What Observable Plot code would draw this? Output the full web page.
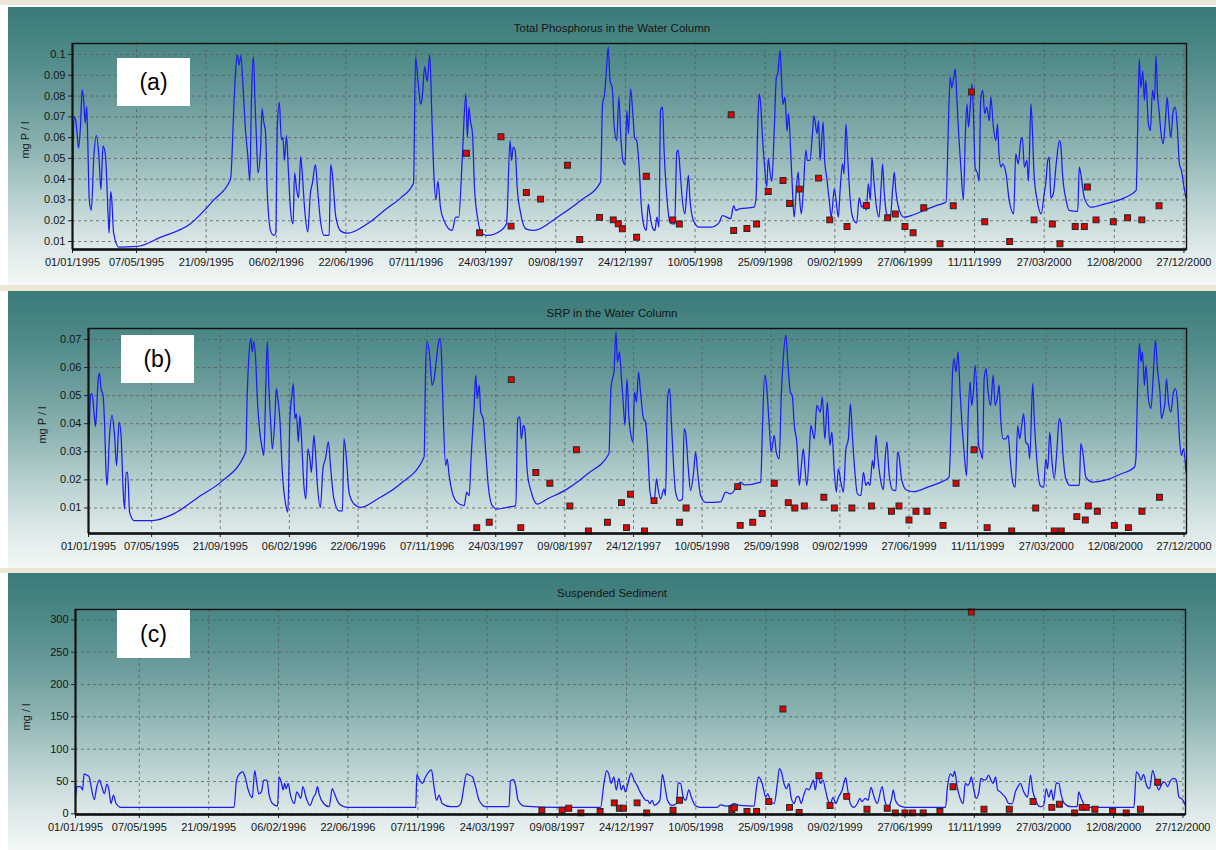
<!DOCTYPE html>
<html><head><meta charset="utf-8">
<script src="https://cdn.jsdelivr.net/npm/d3@7"></script>
<script src="https://cdn.jsdelivr.net/npm/@observablehq/plot@0.6"></script>
<style>
body{margin:0;background:#fff;width:1216px;height:850px;overflow:hidden;font-family:Arial,"Liberation Sans",sans-serif;}
#root{position:relative;width:1216px;height:850px;}
.sep{position:absolute;left:0;width:1216px;background:#ebe7d6;}
.panel{position:absolute;left:8px;width:1208px;overflow:hidden;
 background:linear-gradient(to bottom,#3a7a78 0%,#4b8886 15%,#699b9a 33%,#8ab2b1 50%,#b8d0d0 69%,#dde8e8 86%,#f3f7f7 100%);}
.panel svg{position:absolute;left:0;top:0;}
.title{position:absolute;left:0;width:100%;text-align:center;font-size:11.5px;line-height:14px;color:#151515;}
.ylab{position:absolute;font-size:11px;color:#151515;white-space:nowrap;transform:translate(-50%,-50%) rotate(-90deg);}
.tag{position:absolute;background:#fff;width:73px;height:48px;font-size:23px;line-height:48px;text-align:center;color:#000;}
</style></head>
<body><div id="root"></div>
<script>
// ---------------- data ----------------
const xTickLabels = ["01/01/1995","07/05/1995","21/09/1995","06/02/1996","22/06/1996","07/11/1996","24/03/1997","09/08/1997","24/12/1997","10/05/1998","25/09/1998","09/02/1999","27/06/1999","11/11/1999","27/03/2000","12/08/2000","27/12/2000"];
const tpYTicks = [0.01,0.02,0.03,0.04,0.05,0.06,0.07,0.08,0.09,0.1];
const srpYTicks = [0.01,0.02,0.03,0.04,0.05,0.06,0.07];
const ssYTicks = [0,50,100,150,200,250,300];
const panelTitles = ["Total Phosphorus in the Water Column","SRP in the Water Column","Suspended Sediment"];
const panelTags = ["(a)","(b)","(c)"];
const yLabels = ["mg P / l","mg P / l","mg / l"];

// simulated series: [day since 01/01/1995, value]
const tpSim = [[0,0.030],[3,0.070],[6,0.069],[9,0.062],[12,0.055],[16,0.067],[19,0.083],[22,0.078],[25,0.067],[28,0.075],[30,0.059],[33,0.030],[37,0.025],[42,0.051],[47,0.061],[52,0.051],[56,0.035],[60,0.056],[65,0.051],[70,0.023],[72,0.014],[75,0.034],[77,0.031],[81,0.014],[91,0.0073],[127,0.0076],[173,0.012],[232,0.0185],[278,0.030],[311,0.040],[318,0.078],[321,0.092],[324,0.100],[328,0.095],[331,0.0995],[336,0.083],[340,0.065],[345,0.051],[349,0.039],[352,0.078],[356,0.099],[359,0.078],[362,0.059],[365,0.043],[370,0.054],[373,0.074],[376,0.068],[380,0.062],[383,0.035],[390,0.015],[396,0.013],[400,0.014],[403,0.065],[407,0.077],[411,0.059],[414,0.060],[417,0.049],[421,0.061],[425,0.043],[429,0.025],[434,0.0185],[437,0.043],[441,0.035],[445,0.031],[449,0.051],[452,0.043],[457,0.025],[463,0.0146],[468,0.033],[472,0.038],[478,0.047],[482,0.036],[487,0.022],[495,0.013],[505,0.013],[508,0.047],[511,0.043],[518,0.022],[528,0.015],[541,0.014],[580,0.0185],[619,0.026],[646,0.031],
[671,0.038],[675,0.0987],[680,0.087],[685,0.076],[688,0.079],[693,0.094],[698,0.087],[703,0.100],[707,0.071],[711,0.0426],[715,0.030],[719,0.039],[724,0.0265],[731,0.020],[747,0.0153],[754,0.0217],[760,0.0217],[767,0.0506],[774,0.081],[777,0.060],[780,0.0747],[783,0.068],[787,0.062],[791,0.036],[798,0.020],[806,0.0137],[816,0.0129],[843,0.0153],[854,0.0185],[861,0.0586],[864,0.049],[867,0.0554],[871,0.054],[875,0.036],[882,0.0233],[892,0.0161],[908,0.0153],[954,0.0217],[1000,0.0297],[1039,0.0386],[1043,0.0763],[1047,0.081],[1051,0.094],[1054,0.1035],[1058,0.087],[1062,0.084],[1066,0.065],[1071,0.0586],[1075,0.0795],[1079,0.060],[1083,0.049],[1087,0.047],[1091,0.073],[1094,0.062],[1098,0.0835],[1103,0.070],[1106,0.060],[1110,0.0586],[1115,0.0458],[1119,0.028],[1125,0.0169],[1129,0.0153],[1133,0.028],[1136,0.0233],[1141,0.0169],[1146,0.0153],[1150,0.0217],[1154,0.0169],[1157,0.073],[1161,0.0747],[1164,0.054],[1169,0.033],[1175,0.020],[1180,0.0185],[1185,0.0185],[1189,0.053],[1192,0.054],[1196,0.0426],[1200,0.030],[1205,0.0233],[1209,0.0346],[1212,0.0418],[1215,0.030],[1222,0.020],[1233,0.0169],[1256,0.0169],[1272,0.019],[1279,0.0225],[1295,0.021],[1301,0.0273],[1305,0.025],[1312,0.0257],[1341,0.0265],[1345,0.031],[1348,0.062],[1351,0.081],[1354,0.0763],[1358,0.0586],[1362,0.0458],[1366,0.036],[1369,0.050],[1373,0.0426],[1376,0.039],[1381,0.065],[1385,0.089],[1388,0.091],[1392,0.102],[1395,0.089],[1398,0.076],[1402,0.0795],[1406,0.063],[1409,0.0715],[1413,0.054],[1417,0.033],[1420,0.0217],[1425,0.0378],[1428,0.0434],[1431,0.030],[1434,0.0233],[1438,0.0346],[1443,0.054],[1446,0.049],[1451,0.049],[1456,0.062],[1459,0.0706],[1465,0.062],[1468,0.068],
[1471,0.049],[1477,0.0675],[1480,0.049],[1484,0.041],[1489,0.030],[1493,0.0217],[1499,0.0354],[1502,0.031],[1507,0.0217],[1510,0.033],[1515,0.0474],[1518,0.0426],[1522,0.0666],[1525,0.0522],[1530,0.031],[1535,0.0217],[1543,0.019],[1548,0.031],[1553,0.0265],[1558,0.028],[1562,0.025],[1566,0.0378],[1570,0.030],[1573,0.0506],[1577,0.039],[1582,0.0265],[1587,0.0217],[1591,0.036],[1594,0.0474],[1597,0.0346],[1602,0.0233],[1609,0.021],[1614,0.036],[1617,0.0434],[1620,0.0346],[1627,0.025],[1636,0.0217],[1650,0.0225],[1676,0.025],[1699,0.0273],[1719,0.029],[1723,0.062],[1727,0.089],[1730,0.084],[1734,0.089],[1737,0.093],[1740,0.0795],[1743,0.065],[1748,0.0458],[1753,0.030],[1757,0.063],[1760,0.0763],[1763,0.065],[1766,0.073],[1770,0.086],[1773,0.070],[1776,0.0458],[1781,0.0426],[1784,0.039],[1787,0.078],[1791,0.0827],[1795,0.0715],[1799,0.0747],[1804,0.068],[1807,0.0795],[1812,0.065],[1817,0.0586],[1820,0.0666],[1823,0.0522],[1827,0.0458],[1830,0.0474],[1837,0.0426],[1843,0.030],[1852,0.0233],[1856,0.0522],[1861,0.0474],[1866,0.0586],[1869,0.060],[1873,0.0458],[1878,0.049],[1881,0.039],[1886,0.0763],[1889,0.062],[1892,0.0426],[1898,0.030],[1906,0.0233],[1912,0.033],[1915,0.0378],[1919,0.049],[1922,0.0506],[1925,0.031],[1930,0.033],[1935,0.0458],[1942,0.0586],[1945,0.0554],[1948,0.0426],[1955,0.030],[1961,0.025],[1978,0.0245],[1981,0.0458],[1984,0.0426],[1991,0.031],[2004,0.0265],[2030,0.028],[2070,0.031],[2093,0.0346],[2096,0.065],[2099,0.098],[2102,0.084],[2106,0.092],[2109,0.078],[2112,0.0875],[2117,0.0666],[2121,0.0634],[2125,0.0827],[2129,0.078],[2132,0.0995],[2135,0.081],[2138,0.073],[2142,0.062],[2146,0.057],[2150,0.0666],[2154,0.0795],[2157,0.070],[2161,0.060],[2166,0.073],[2170,0.0747],[2174,0.065],[2178,0.0474],[2182,0.0442],[2186,0.0378],[2191,0.031]];

const srpSim = [[0,0.0227],[4,0.050],[7,0.0507],[11,0.044],[14,0.039],[17,0.0477],[19,0.055],[22,0.058],[25,0.0525],[29,0.050],[32,0.0406],[35,0.0227],[37,0.018],[42,0.0358],[47,0.043],[52,0.0358],[56,0.0251],[61,0.0406],[65,0.0358],[69,0.0168],[72,0.0096],[75,0.0227],[78,0.0227],[82,0.0085],[91,0.0055],[127,0.0055],[170,0.0079],[224,0.0144],[264,0.0192],[314,0.0299],[317,0.0513],[320,0.0632],[324,0.0704],[327,0.0656],[330,0.0692],[334,0.062],[337,0.0489],[342,0.037],[347,0.031],[350,0.0287],[354,0.0537],[357,0.0692],[360,0.0537],[364,0.0394],[367,0.031],[372,0.0418],[375,0.0525],[378,0.0489],[382,0.0418],[387,0.0227],[394,0.0108],[398,0.0085],[402,0.0418],[406,0.050],[409,0.0543],[412,0.0418],[415,0.0436],[419,0.0335],[422,0.043],[425,0.0358],[430,0.018],[434,0.0132],[438,0.031],[442,0.0275],[445,0.0227],[450,0.0358],[453,0.0299],[457,0.018],[463,0.0102],[468,0.0239],[473,0.0275],[479,0.0335],[483,0.0251],[490,0.0132],[500,0.009],[507,0.009],[510,0.0346],[515,0.0275],[520,0.0156],[530,0.0114],[543,0.0102],[577,0.0132],[623,0.0186],
[670,0.0281],[673,0.0596],[676,0.0692],[681,0.0644],[686,0.0537],[690,0.056],[694,0.062],[698,0.068],[702,0.0704],[705,0.0632],[708,0.0442],[713,0.0251],[716,0.0275],[720,0.0215],[726,0.0156],[736,0.012],[750,0.0108],[755,0.0156],[760,0.0144],[764,0.0287],[770,0.0465],[773,0.0573],[776,0.0489],[780,0.0537],[783,0.0442],[788,0.0418],[793,0.0299],[798,0.018],[806,0.0108],[816,0.0096],[836,0.0102],[853,0.0108],[857,0.0418],[861,0.0424],[864,0.0346],[868,0.0394],[871,0.0382],[876,0.0227],[884,0.0156],[896,0.0114],[916,0.0132],[956,0.0168],[996,0.0221],[1039,0.0293],[1043,0.0525],[1046,0.056],[1049,0.0584],[1053,0.0727],[1056,0.062],[1060,0.0656],[1064,0.056],[1067,0.0489],[1071,0.0394],[1075,0.056],[1079,0.0418],[1082,0.037],[1087,0.0335],[1090,0.0513],[1094,0.0477],[1098,0.0584],[1102,0.0513],[1108,0.0418],[1112,0.0406],[1116,0.0323],[1121,0.0156],[1127,0.012],[1130,0.0132],[1134,0.0204],[1137,0.0168],[1142,0.0132],[1149,0.0168],[1152,0.0144],[1156,0.0489],[1160,0.0525],[1164,0.0394],[1168,0.0251],[1172,0.0156],[1179,0.0126],[1186,0.0132],[1189,0.0382],[1192,0.037],[1197,0.0251],[1202,0.0162],[1208,0.0227],[1212,0.0299],[1216,0.0227],[1222,0.0144],[1232,0.012],[1262,0.0122],[1272,0.0156],[1282,0.015],[1296,0.018],[1302,0.0192],[1309,0.0182],[1342,0.0192],[1345,0.0358],[1350,0.0573],[1353,0.0549],[1359,0.0394],[1363,0.0299],[1369,0.0358],[1373,0.0299],[1379,0.0275],[1383,0.050],[1387,0.0632],[1392,0.0716],[1397,0.0596],[1401,0.0513],[1405,0.050],[1409,0.0394],[1414,0.0335],[1419,0.018],[1422,0.0227],[1427,0.031],[1431,0.0227],[1434,0.018],[1439,0.0299],[1442,0.0394],[1449,0.0346],[1454,0.0465],
[1461,0.0442],[1465,0.0495],[1470,0.0346],[1475,0.0477],[1480,0.0323],[1484,0.037],[1489,0.0227],[1493,0.0156],[1497,0.0239],[1502,0.0192],[1507,0.0156],[1512,0.031],[1517,0.0346],[1521,0.0471],[1525,0.0358],[1530,0.0227],[1535,0.015],[1542,0.0144],[1547,0.0227],[1552,0.018],[1556,0.0192],[1560,0.018],[1565,0.0269],[1568,0.0239],[1572,0.0358],[1576,0.0275],[1582,0.0192],[1587,0.0165],[1590,0.0263],[1594,0.0335],[1598,0.0227],[1605,0.0165],[1612,0.0162],[1615,0.0299],[1618,0.0287],[1623,0.0204],[1632,0.0165],[1648,0.0158],[1675,0.0174],[1702,0.0192],[1718,0.021],[1722,0.0394],[1725,0.0584],[1728,0.0632],[1732,0.0584],[1736,0.0656],[1740,0.0513],[1743,0.0418],[1748,0.0299],[1753,0.0215],[1756,0.0418],[1760,0.0549],[1763,0.0465],[1766,0.050],[1770,0.0608],[1774,0.0489],[1777,0.0323],[1781,0.0299],[1785,0.0275],[1788,0.056],[1792,0.0596],[1796,0.0513],[1801,0.0465],[1806,0.0573],[1810,0.0465],[1815,0.050],[1818,0.0537],[1821,0.0418],[1826,0.0346],[1831,0.0346],[1836,0.0358],[1840,0.0275],[1845,0.0192],[1850,0.0174],[1855,0.0394],[1859,0.0346],[1863,0.0394],[1867,0.0436],[1871,0.0335],[1876,0.0323],[1879,0.0275],[1885,0.0543],[1888,0.0418],[1893,0.0275],[1900,0.018],[1907,0.0174],[1911,0.0275],[1915,0.0239],[1919,0.037],[1923,0.0275],[1928,0.0204],[1933,0.0299],[1938,0.0418],[1941,0.0406],[1946,0.0275],[1951,0.0204],[1960,0.018],[1978,0.018],[1981,0.0329],[1985,0.0299],[1991,0.021],[2005,0.0192],[2028,0.0198],[2061,0.0221],[2088,0.0245],[2091,0.0275],[2094,0.050],[2098,0.0686],[2101,0.062],[2104,0.0656],[2108,0.0537],[2111,0.0608],[2116,0.0489],[2121,0.0454],[2126,0.0584],[2130,0.0698],[2134,0.0596],[2139,0.0513],[2142,0.0418],[2146,0.0442],[2149,0.0477],[2152,0.056],[2156,0.0477],[2161,0.0442],[2166,0.0513],[2170,0.0525],[2174,0.0477],[2178,0.0346],[2182,0.0287],[2186,0.031],[2191,0.0227]];

const ssSim = [[0,26],[3,42],[10,42],[14,37],[17,62],[22,60],[27,57],[32,37],[37,22],[42,42],[47,52],[52,42],[57,31],[62,46],[66,37],[70,16],[75,29],[80,16],[90,10],[313,10],[318,52],[324,62],[330,65],[335,57],[341,37],[349,25],[354,67],[358,47],[362,31],[367,34],[372,52],[378,52],[382,31],[389,16],[399,12],[402,57],[407,47],[410,37],[413,47],[416,39],[420,47],[424,31],[432,16],[437,34],[441,29],[445,24],[449,42],[455,26],[463,13],[470,26],[474,31],[478,42],[481,31],[490,16],[501,11],[507,39],[510,34],[518,19],[527,12],[540,10],[672,10],
[674,61],[678,55],[685,47],[690,55],[695,62],[703,68],[708,42],[713,21],[718,29],[724,16],[741,11],[754,11],[761,16],[767,42],[772,62],[777,60],[784,57],[790,42],[797,21],[810,11],[856,11],[859,51],[865,53],[869,44],[874,21],[886,12],[951,10],[1037,10],[1043,44],[1049,67],[1053,62],[1058,47],[1063,57],[1068,37],[1073,55],[1078,37],[1082,44],[1086,34],[1091,47],[1097,63],[1103,52],[1109,44],[1115,34],[1121,26],[1126,21],[1130,21],[1134,16],[1139,21],[1143,13],[1149,16],[1154,21],[1159,61],[1163,47],[1169,21],[1178,13],[1187,16],[1190,48],[1195,47],[1200,26],[1205,21],[1211,37],[1216,26],[1224,13],[1234,10],[1267,10],[1274,14],[1284,12],[1294,13],[1300,16],[1313,13],[1340,12],[1345,42],[1349,57],[1356,47],[1363,26],[1367,31],[1372,21],[1380,16],[1386,47],[1390,70],[1394,65],[1399,47],[1404,39],[1409,47],[1413,26],[1419,16],[1424,26],[1428,27],[1433,16],[1438,29],[1444,39],[1448,37],[1455,49],
[1457,52],[1461,37],[1466,62],[1471,47],[1476,52],[1481,37],[1486,21],[1491,16],[1496,26],[1501,16],[1507,26],[1514,37],[1521,56],[1525,37],[1530,16],[1537,10],[1544,16],[1549,24],[1553,19],[1560,24],[1565,21],[1571,41],[1576,29],[1583,16],[1593,42],[1598,21],[1604,11],[1611,21],[1615,37],[1619,21],[1629,12],[1642,10],[1718,10],[1722,42],[1728,62],[1733,58],[1736,66],[1741,42],[1746,26],[1753,16],[1757,47],[1762,44],[1766,49],[1769,57],[1774,37],[1779,24],[1784,34],[1788,55],[1794,52],[1798,53],[1803,60],[1808,52],[1812,47],[1817,57],[1821,37],[1826,34],[1832,29],[1836,26],[1843,16],[1850,16],[1856,34],[1861,42],[1866,47],[1871,37],[1876,29],[1880,26],[1886,60],[1890,37],[1896,21],[1905,11],[1912,13],[1917,39],[1922,26],[1927,37],[1931,21],[1937,48],[1942,47],[1946,31],[1953,16],[1965,11],[1978,11],[1981,34],[1986,24],[1994,12],[2004,10],[2090,10],[2095,65],[2100,60],[2104,52],[2109,61],[2116,42],[2121,39],[2127,67],[2132,55],[2139,37],[2146,47],[2151,49],[2157,42],[2162,51],[2169,55],[2174,52],[2179,26],[2183,24],[2187,21],[2192,13]];

// observed samples: [day since 01/01/1995, value]
const tpObs = [[775,0.0525],[801,0.0142],[843,0.0604],[863,0.0174],[893,0.0336],[921,0.0304],[974,0.0467],[998,0.011],[1037,0.0216],[1064,0.0204],[1074,0.0185],[1082,0.0161],[1110,0.012],[1129,0.0414],[1181,0.0204],[1194,0.0184],[1296,0.071],[1301,0.0153],[1327,0.0163],[1346,0.0184],[1369,0.0341],[1398,0.0394],[1411,0.0283],[1430,0.0352],[1468,0.0405],[1490,0.0204],[1524,0.0172],[1562,0.0273],[1604,0.0214],[1619,0.0232],[1638,0.0172],[1654,0.0142],[1675,0.0262],[1707,0.0089],[1733,0.0272],[1769,0.082],[1795,0.0195],[1844,0.010],[1892,0.0204],[1928,0.0184],[1943,0.0089],[1973,0.0172],[1991,0.0172],[1997,0.0362],[2014,0.0204],[2048,0.0195],[2076,0.0214],[2104,0.0204],[2138,0.0272]];
const srpObs = [[775,0.003],[800,0.0049],[844,0.0557],[863,0.003],[893,0.0226],[921,0.0188],[961,0.0107],[974,0.0307],[998,0.0018],[1036,0.0049],[1064,0.0119],[1074,0.003],[1082,0.0149],[1110,0.0018],[1129,0.0126],[1180,0.0049],[1193,0.010],[1296,0.0176],[1301,0.0038],[1326,0.0049],[1345,0.008],[1369,0.0188],[1397,0.0119],[1410,0.010],[1429,0.0107],[1468,0.0138],[1489,0.010],[1524,0.010],[1563,0.0107],[1603,0.0088],[1618,0.0107],[1638,0.0057],[1652,0.0088],[1674,0.0088],[1706,0.0038],[1732,0.0188],[1768,0.0307],[1794,0.003],[1843,0.0018],[1891,0.010],[1928,0.0018],[1942,0.0018],[1973,0.0069],[1990,0.0057],[1996,0.0107],[2014,0.0088],[2048,0.0038],[2076,0.003],[2103,0.0088],[2138,0.0138]];
const ssObs = [[921,5.7],[961,5.7],[974,8.7],[998,1.5],[1036,3.6],[1064,17],[1074,8.7],[1082,8.7],[1109,17],[1128,1.5],[1180,5.7],[1193,21],[1296,6.7],[1301,9.3],[1326,3.6],[1345,3.6],[1369,19],[1397,162],[1410,10],[1429,2],[1468,59],[1490,13],[1523,27],[1563,7.2],[1603,8.7],[1619,1.5],[1638,1.5],[1653,1.5],[1674,1.5],[1707,3.6],[1733,42],[1769,312],[1794,7.2],[1844,7.2],[1891,19],[1928,10],[1943,15],[1973,1.5],[1988,10],[1996,10],[2013,7.2],[2048,3.6],[2075,1.5],[2103,7.2],[2137,49]];

// ---------------- drawing ----------------
const DAY0 = Date.UTC(1995,0,1);
const toDate = d => new Date(DAY0 + d*86400000);
const parse = d3.utcParse("%d/%m/%Y");
const fmt = d3.utcFormat("%d/%m/%Y");
const xTicks = xTickLabels.map(parse);
const xDomain = [toDate(0), toDate(2192)];

const panels = [
  {top:7, h:278, sim:tpSim, obs:tpObs, yTicks:tpYTicks, yDomain:[0.00615,0.1053], m:[36,30,36,64],
   titleY:21, tag:[109,51], ylab:[17,133], yfmt:d=>String(+d.toFixed(2))},
  {top:291, h:277, sim:srpSim, obs:srpObs, yTicks:srpYTicks, yDomain:[0.0009,0.0739], m:[37,30,35,80],
   titleY:22, tag:[113,44], ylab:[34,134], yfmt:d=>String(+d.toFixed(2))},
  {top:573, h:277, sim:ssSim, obs:ssObs, yTicks:ssYTicks, yDomain:[-1,316], m:[36,31,36,67],
   titleY:20, tag:[109,37], ylab:[18,144], yfmt:d=>String(d)}
];

const root = document.getElementById("root");
[[0,5],[285,291],[568,573]].forEach(([a,b])=>{
  const s=document.createElement("div"); s.className="sep"; s.style.top=a+"px"; s.style.height=(b-a)+"px"; root.appendChild(s);
});

panels.forEach((p,i)=>{
  const div = document.createElement("div");
  div.className="panel"; div.style.top=p.top+"px"; div.style.height=p.h+"px";
  const chart = Plot.plot({
    width:1208, height:p.h,
    marginTop:p.m[0], marginRight:p.m[1], marginBottom:p.m[2], marginLeft:p.m[3],
    style:{background:"transparent", fontFamily:"Arial, 'Liberation Sans', sans-serif", fontSize:"11px", color:"#151515", overflow:"visible"},
    x:{type:"utc", domain:xDomain},
    y:{domain:p.yDomain},
    marks:[
      Plot.gridX(xTicks, {stroke:"#5a5a5a", strokeOpacity:0.75, strokeDasharray:"3,3", strokeWidth:1}),
      Plot.gridY(p.yTicks, {stroke:"#5a5a5a", strokeOpacity:0.75, strokeDasharray:"3,3", strokeWidth:1}),
      Plot.axisX(xTicks, {tickFormat:fmt, tickSize:4, tickPadding:5, label:null, stroke:"#222"}),
      Plot.axisY(p.yTicks, {tickFormat:p.yfmt, tickSize:4, tickPadding:3, label:null, stroke:"#222"}),
      Plot.line(p.sim, {x:d=>toDate(d[0]), y:d=>d[1], stroke:"#1c1cf5", strokeWidth:1.25, curve:"monotone-x"}),
      Plot.dot(p.obs, {x:d=>toDate(d[0]), y:d=>d[1], symbol:"square", r:3.3, fill:"#e60000", stroke:"#2a2a2a", strokeWidth:1.1}),
      Plot.frame({stroke:"#111", strokeWidth:1.4}),
      Plot.ruleY([p.yDomain[0]], {stroke:"#111", strokeWidth:2.4}),
      Plot.ruleX([xDomain[0]], {stroke:"#111", strokeWidth:2})
    ]
  });
  div.appendChild(chart);
  const t=document.createElement("div"); t.className="title"; t.textContent=panelTitles[i];
  t.style.top=(p.titleY-7)+"px"; div.appendChild(t);
  const g=document.createElement("div"); g.className="tag"; g.textContent=panelTags[i];
  g.style.left=p.tag[0]+"px"; g.style.top=p.tag[1]+"px"; div.appendChild(g);
  const y=document.createElement("div"); y.className="ylab"; y.textContent=yLabels[i];
  y.style.left=p.ylab[0]+"px"; y.style.top=p.ylab[1]+"px"; div.appendChild(y);
  root.appendChild(div);
});
</script>
</body></html>
